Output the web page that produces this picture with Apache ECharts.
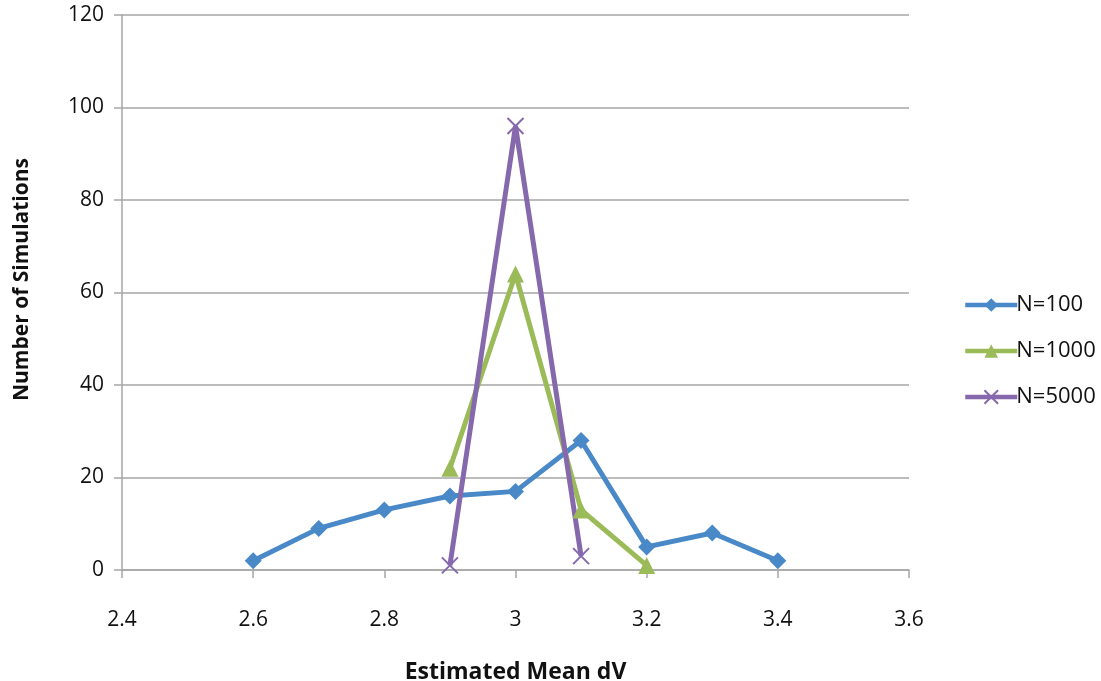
<!DOCTYPE html>
<html><head><meta charset="utf-8">
<script src="https://cdn.jsdelivr.net/npm/echarts@6/dist/echarts.min.js"></script>
<style>html,body{margin:0;padding:0;background:#fff}#c{width:1101px;height:681px}</style>
</head><body><div id="c"></div>
<script>
const seriesNames = ['N=100', 'N=1000', 'N=5000'];
const xN100 = [2.6, 2.7, 2.8, 2.9, 3.0, 3.1, 3.2, 3.3, 3.4];
const yN100 = [2, 9, 13, 16, 17, 28, 5, 8, 2];
const xN1000 = [2.9, 3.0, 3.1, 3.2];
const yN1000 = [22, 64, 13, 1];
const xN5000 = [2.9, 3.0, 3.1];
const yN5000 = [1, 96, 3];
const xTicks = [2.4, 2.6, 2.8, 3, 3.2, 3.4, 3.6];
const yTicks = [0, 20, 40, 60, 80, 100, 120];

const font = "'Open Sans', 'Noto Sans', sans-serif";
const zip = (xs, ys) => xs.map((x, i) => [x, ys[i]]);
const chart = echarts.init(document.getElementById('c'));
chart.setOption({
  animation: false,
  grid: { left: 122, right: 192, top: 15, bottom: 111, containLabel: false, outerBoundsMode: 'none' },
  legend: {
    orient: 'vertical', left: 958, top: 289, itemGap: 24, itemWidth: 52, itemHeight: 17,
    lineStyle: { width: 4.5 },
    textStyle: { fontFamily: font, fontSize: 22, color: '#111', padding: [0, 0, 0, -6] },
    data: seriesNames
  },
  xAxis: {
    type: 'value', min: 2.4, max: 3.6, interval: 0.2,
    name: 'Estimated Mean dV', nameLocation: 'middle', nameGap: 91,
    nameTextStyle: { fontFamily: font, fontSize: 23, fontWeight: 'bold', color: '#111' },
    axisLine: { show: true, lineStyle: { color: '#a6a6a6', width: 1.5 } },
    axisTick: { show: true, length: 8, lineStyle: { color: '#a6a6a6', width: 1.5 } },
    splitLine: { show: false },
    axisLabel: { fontFamily: font, fontSize: 21, color: '#111', margin: 40,
      formatter: v => { const t = xTicks.find(a => Math.abs(a - v) < 1e-6); return t === undefined ? '' : String(t); } }
  },
  yAxis: {
    type: 'value', min: 0, max: 120, interval: 20,
    name: 'Number of Simulations', nameLocation: 'middle', nameGap: 89, nameRotate: 90,
    nameTextStyle: { fontFamily: font, fontSize: 21, fontWeight: 'bold', color: '#111', padding: [0, 0, 0, 26] },
    axisLine: { show: true, lineStyle: { color: '#a6a6a6', width: 1.5 } },
    axisTick: { show: true, length: 8, lineStyle: { color: '#a6a6a6', width: 1.5 } },
    splitLine: { show: true, lineStyle: { color: '#a6a6a6', width: 1.5 } },
    axisLabel: { fontFamily: font, fontSize: 21, color: '#111', margin: 18,
      formatter: v => yTicks.includes(v) ? String(v) : '' }
  },
  series: [
    { name: seriesNames[0], type: 'line', data: zip(xN100, yN100), color: '#4a89c8',
      lineStyle: { width: 5, color: '#4a89c8' }, symbol: 'diamond', symbolSize: 17, itemStyle: { color: '#4a89c8' } },
    { name: seriesNames[1], type: 'line', data: zip(xN1000, yN1000), color: '#9bbb59',
      lineStyle: { width: 5, color: '#9bbb59' }, symbol: 'triangle', symbolSize: 17, itemStyle: { color: '#9bbb59' } },
    { name: seriesNames[2], type: 'line', data: zip(xN5000, yN5000), color: '#8669ad',
      lineStyle: { width: 5, color: '#8669ad' },
      symbol: 'path://M0,0 L10,10 M10,0 L0,10', symbolSize: 16,
      itemStyle: { color: '#8669ad', borderColor: '#8669ad', borderWidth: 2 } }
  ]
});
</script></body></html>
